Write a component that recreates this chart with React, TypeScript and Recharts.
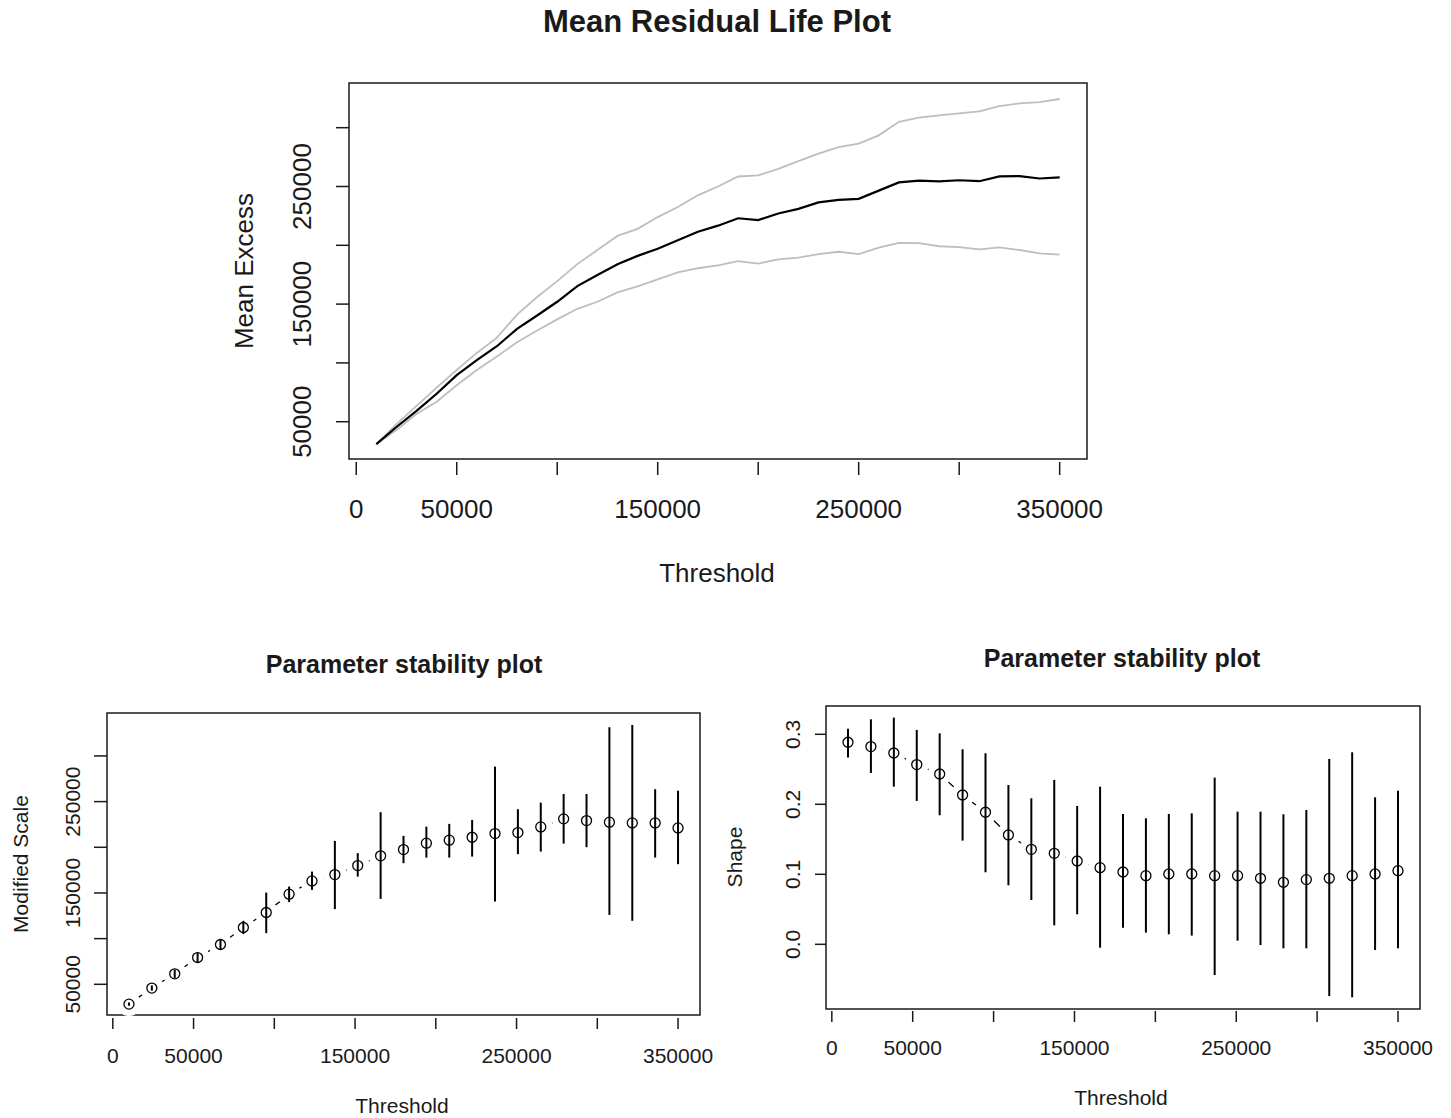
import { ComposedChart, ErrorBar, Line, ReferenceArea, XAxis, YAxis } from "recharts";

const FONT = '"Liberation Sans", Arial, Helvetica, sans-serif';
const INK = "#1a1a1a";
const GREY = "#bebebe";

// mean residual life: thresholds and mean excess with its confidence band
const mrlThresholds = [
  10000, 20000, 30000, 40000, 50000, 60000, 70000, 80000, 90000, 100000, 110000, 120000,
  130000, 140000, 150000, 160000, 170000, 180000, 190000, 200000, 210000, 220000, 230000,
  240000, 250000, 260000, 270000, 280000, 290000, 300000, 310000, 320000, 330000, 340000, 350000,
];
const mrlMean = [
  31000, 45500, 59300, 73800, 89600, 102300, 114200, 129000, 140300, 152000, 165300, 174700,
  183800, 191000, 197100, 204300, 211500, 216700, 223000, 221500, 227000, 231000, 236500,
  238700, 239500, 246500, 253500, 255000, 254400, 255300, 254500, 258600, 258800, 256800, 257800,
];
const mrlUpper = [
  31000, 48000, 63500, 79000, 94000, 108500, 121500, 141000, 156000, 169500, 184000, 196000,
  208000, 214000, 224000, 232500, 242500, 250000, 258500, 259500, 265000, 271500, 278000,
  283500, 286500, 293500, 305000, 308500, 310500, 312200, 313800, 318400, 320600, 321800, 324400,
];
const mrlLower = [
  31000, 43000, 56500, 67000, 81000, 94000, 105500, 117500, 127500, 137000, 146000, 152000,
  160000, 165000, 171000, 177000, 180500, 183000, 186500, 184500, 188000, 189500, 192500,
  194500, 192500, 198000, 202000, 201800, 199200, 198500, 196500, 198200, 196000, 193200, 192000,
];

const thresholdTicks = [0, 50000, 100000, 150000, 200000, 250000, 300000, 350000];
const thresholdLabels = [0, 50000, 150000, 250000, 350000];
const excessTicks = [50000, 100000, 150000, 200000, 250000, 300000];
const excessLabels = [50000, 150000, 250000];

// parameter stability: fitted thresholds
const fitThresholds = [
  10000, 24167, 38333, 52500, 66667, 80833, 95000, 109167, 123333, 137500, 151667, 165833,
  180000, 194167, 208333, 222500, 236667, 250833, 265000, 279167, 293333, 307500, 321667,
  335833, 350000,
];

const scaleEst = [
  28300, 45900, 61500, 79300, 93600, 112200, 128600, 148700, 163200, 170100, 180000, 190600,
  197500, 204500, 207800, 211000, 215000, 216100, 222300, 231100, 229200, 227500, 226700,
  226700, 221200,
];
const scaleLow = [
  26500, 43000, 57000, 74000, 88000, 105000, 106000, 140000, 153400, 132300, 167900, 143500,
  182600, 188700, 188700, 189800, 140600, 192500, 195300, 204000, 200100, 126000, 119500,
  188700, 181500,
];
const scaleHigh = [
  30100, 48800, 66000, 84500, 99500, 119500, 150400, 157000, 173400, 207000, 193600, 238400,
  212500, 222600, 225600, 230000, 288300, 241700, 248900, 258400, 258400, 331400, 333900,
  263600, 262000,
];

const shapeEst = [
  0.2886, 0.2824, 0.2733, 0.2567, 0.2433, 0.2133, 0.1886, 0.1562, 0.1357, 0.13, 0.119, 0.1095,
  0.1033, 0.0981, 0.1005, 0.1005, 0.0981, 0.0981, 0.0943, 0.0886, 0.0924, 0.0943, 0.0981,
  0.1005, 0.1052,
];
const shapeLow = [
  0.2667, 0.2448, 0.2252, 0.2048, 0.1843, 0.1481, 0.1029, 0.0843, 0.0633, 0.0271, 0.0429,
  -0.0048, 0.0238, 0.0167, 0.0143, 0.0124, -0.0438, 0.0052, -0.001, -0.0057, -0.0057, -0.0738,
  -0.0757, -0.0081, -0.0057,
];
const shapeHigh = [
  0.308, 0.3214, 0.3238, 0.3062, 0.3014, 0.2786, 0.2729, 0.2276, 0.2086, 0.2348, 0.1976,
  0.2252, 0.1862, 0.18, 0.1862, 0.1871, 0.2381, 0.1895, 0.1895, 0.1857, 0.1919, 0.2648, 0.2743,
  0.21, 0.2195,
];
const shapeTicks = [0, 0.1, 0.2, 0.3];

const X_DOMAIN: [number, number] = [-3600, 363600];

const mrlRows = mrlThresholds.map((t, i) => ({
  t,
  mean: mrlMean[i],
  upper: mrlUpper[i],
  lower: mrlLower[i],
}));

const scaleRows = fitThresholds.map((t, i) => ({
  t,
  est: scaleEst[i],
  err: [scaleEst[i] - scaleLow[i], scaleHigh[i] - scaleEst[i]],
}));

const shapeRows = fitThresholds.map((t, i) => ({
  t,
  est: shapeEst[i],
  err: [shapeEst[i] - shapeLow[i], shapeHigh[i] - shapeEst[i]],
}));

type TickOpts = {
  gap: number;
  len: number;
  offset: number;
  size: number;
  labels: number[];
  fmt?: (v: number) => string;
};

// R-style ticks: detached from the box, only non-overlapping labels
function xTick(o: TickOpts) {
  return (props: any) => {
    const { x, y, payload } = props;
    const v = payload.value;
    return (
      <g>
        <line x1={x} x2={x} y1={y + o.gap} y2={y + o.gap + o.len} stroke={INK} strokeWidth={1.5} />
        {o.labels.includes(v) && (
          <text x={x} y={y + o.offset} textAnchor="middle" fontSize={o.size} fontFamily={FONT} fill={INK}>
            {o.fmt ? o.fmt(v) : String(v)}
          </text>
        )}
      </g>
    );
  };
}

function yTick(o: TickOpts) {
  return (props: any) => {
    const { x, y, payload } = props;
    const v = payload.value;
    const tx = x - o.offset;
    return (
      <g>
        <line x1={x - o.gap - o.len} x2={x - o.gap} y1={y} y2={y} stroke={INK} strokeWidth={1.5} />
        {o.labels.includes(v) && (
          <text
            x={tx}
            y={y}
            transform={`rotate(-90 ${tx} ${y})`}
            textAnchor="middle"
            fontSize={o.size}
            fontFamily={FONT}
            fill={INK}
          >
            {o.fmt ? o.fmt(v) : String(v)}
          </text>
        )}
      </g>
    );
  };
}

function MeanResidualLife() {
  const yDomain: [number, number] = [18300, 338000];
  return (
    <ComposedChart
      width={1451}
      height={600}
      data={mrlRows}
      margin={{ top: 83, right: 364, bottom: 41, left: 249 }}
    >
      <XAxis
        type="number"
        dataKey="t"
        domain={X_DOMAIN}
        ticks={thresholdTicks}
        interval={0}
        height={100}
        axisLine={false}
        tickLine={false}
        tickSize={0}
        tickMargin={0}
        tick={xTick({ gap: 3, len: 13, offset: 59, size: 26, labels: thresholdLabels })}
      />
      <YAxis
        type="number"
        domain={yDomain}
        ticks={excessTicks}
        interval={0}
        width={100}
        axisLine={false}
        tickLine={false}
        tickSize={0}
        tickMargin={0}
        tick={yTick({ gap: 0, len: 13, offset: 38, size: 26, labels: excessLabels })}
      />
      <ReferenceArea
        x1={X_DOMAIN[0]}
        x2={X_DOMAIN[1]}
        y1={yDomain[0]}
        y2={yDomain[1]}
        fill="none"
        stroke={INK}
        strokeWidth={1.5}
      />
      <Line dataKey="upper" type="linear" stroke={GREY} strokeWidth={1.8} dot={false} activeDot={false} isAnimationActive={false} />
      <Line dataKey="lower" type="linear" stroke={GREY} strokeWidth={1.8} dot={false} activeDot={false} isAnimationActive={false} />
      <Line dataKey="mean" type="linear" stroke="#000" strokeWidth={2.2} dot={false} activeDot={false} isAnimationActive={false} />
    </ComposedChart>
  );
}

type PanelProps = {
  rows: Array<{ t: number; est: number; err: number[] }>;
  yDomain: [number, number];
  yTicks: number[];
  yLabels: number[];
  fmt?: (v: number) => string;
  margin: { top: number; right: number; bottom: number; left: number };
  xTickOpts: TickOpts;
  yTickOpts: TickOpts;
};

// two stacked charts with identical geometry: the lower one carries the box,
// axes and the gapped "type b" line, the upper one the points and their intervals
function StabilityPanel(p: PanelProps) {
  const axes = (withTicks: boolean) => [
    <XAxis
      key="x"
      type="number"
      dataKey="t"
      domain={X_DOMAIN}
      ticks={thresholdTicks}
      interval={0}
      height={60}
      axisLine={false}
      tickLine={false}
      tickSize={0}
      tickMargin={0}
      tick={withTicks ? xTick(p.xTickOpts) : false}
    />,
    <YAxis
      key="y"
      type="number"
      domain={p.yDomain}
      ticks={p.yTicks}
      interval={0}
      width={60}
      axisLine={false}
      tickLine={false}
      tickSize={0}
      tickMargin={0}
      tick={withTicks ? yTick({ ...p.yTickOpts, labels: p.yLabels, fmt: p.fmt }) : false}
    />,
  ];
  return (
    <div style={{ position: "relative", width: 725, height: 518 }}>
      <div style={{ position: "absolute", left: 0, top: 0 }}>
        <ComposedChart width={725} height={518} data={p.rows} margin={p.margin}>
          {axes(true)}
          <ReferenceArea
            x1={X_DOMAIN[0]}
            x2={X_DOMAIN[1]}
            y1={p.yDomain[0]}
            y2={p.yDomain[1]}
            fill="none"
            stroke={INK}
            strokeWidth={1.5}
          />
          {/* white discs leave the gaps round each point */}
          <Line
            dataKey="est"
            type="linear"
            stroke="#000"
            strokeWidth={1.3}
            dot={{ r: 12, fill: "#fff", stroke: "none" }}
            activeDot={false}
            isAnimationActive={false}
          />
        </ComposedChart>
      </div>
      <div style={{ position: "absolute", left: 0, top: 0 }}>
        <ComposedChart width={725} height={518} data={p.rows} margin={p.margin}>
          {axes(false)}
          <Line
            dataKey="est"
            type="linear"
            stroke="none"
            dot={{ r: 5, fill: "none", stroke: "#000", strokeWidth: 1.3 }}
            activeDot={false}
            isAnimationActive={false}
          >
            <ErrorBar dataKey="err" direction="y" width={0} stroke="#000" strokeWidth={2} isAnimationActive={false} />
          </Line>
        </ComposedChart>
      </div>
    </div>
  );
}

function Labels() {
  const t = { fontFamily: FONT, fill: INK };
  return (
    <svg width={1451} height={1118} style={{ position: "absolute", left: 0, top: 0, pointerEvents: "none" }}>
      <text x={717} y={32} textAnchor="middle" fontSize={31} fontWeight="bold" {...t}>
        Mean Residual Life Plot
      </text>
      <text x={717} y={582} textAnchor="middle" fontSize={26} {...t}>
        Threshold
      </text>
      <text x={253} y={271} transform="rotate(-90 253 271)" textAnchor="middle" fontSize={26} {...t}>
        Mean Excess
      </text>

      <text x={404} y={673} textAnchor="middle" fontSize={25} fontWeight="bold" {...t}>
        Parameter stability plot
      </text>
      <text x={402} y={1113} textAnchor="middle" fontSize={21} {...t}>
        Threshold
      </text>
      <text x={28} y={864} transform="rotate(-90 28 864)" textAnchor="middle" fontSize={21} {...t}>
        Modified Scale
      </text>

      <text x={1122} y={667} textAnchor="middle" fontSize={25} fontWeight="bold" {...t}>
        Parameter stability plot
      </text>
      <text x={1121} y={1105} textAnchor="middle" fontSize={21} {...t}>
        Threshold
      </text>
      <text x={742} y={857} transform="rotate(-90 742 857)" textAnchor="middle" fontSize={21} {...t}>
        Shape
      </text>
    </svg>
  );
}

export default function App() {
  return (
    <div style={{ position: "relative", width: 1451, height: 1118, background: "#fff", overflow: "hidden" }}>
      <style>{"body{margin:0;background:#fff}"}</style>
      <div style={{ position: "absolute", left: 0, top: 0 }}>
        <MeanResidualLife />
      </div>
      <div style={{ position: "absolute", left: 0, top: 600 }}>
        <StabilityPanel
          rows={scaleRows}
          yDomain={[16400, 347000]}
          yTicks={excessTicks}
          yLabels={excessLabels}
          margin={{ top: 113, right: 25, bottom: 43, left: 47 }}
          xTickOpts={{ gap: 3, len: 11, offset: 48, size: 21, labels: thresholdLabels }}
          yTickOpts={{ gap: 0, len: 13, offset: 27, size: 21, labels: excessLabels }}
        />
      </div>
      <div style={{ position: "absolute", left: 725, top: 600 }}>
        <StabilityPanel
          rows={shapeRows}
          yDomain={[-0.0924, 0.3404]}
          yTicks={shapeTicks}
          yLabels={shapeTicks}
          fmt={(v) => v.toFixed(1)}
          margin={{ top: 106, right: 30, bottom: 49, left: 41 }}
          xTickOpts={{ gap: 2, len: 11, offset: 46, size: 21, labels: thresholdLabels }}
          yTickOpts={{ gap: 0, len: 11, offset: 26, size: 21, labels: shapeTicks }}
        />
      </div>
      <Labels />
    </div>
  );
}
